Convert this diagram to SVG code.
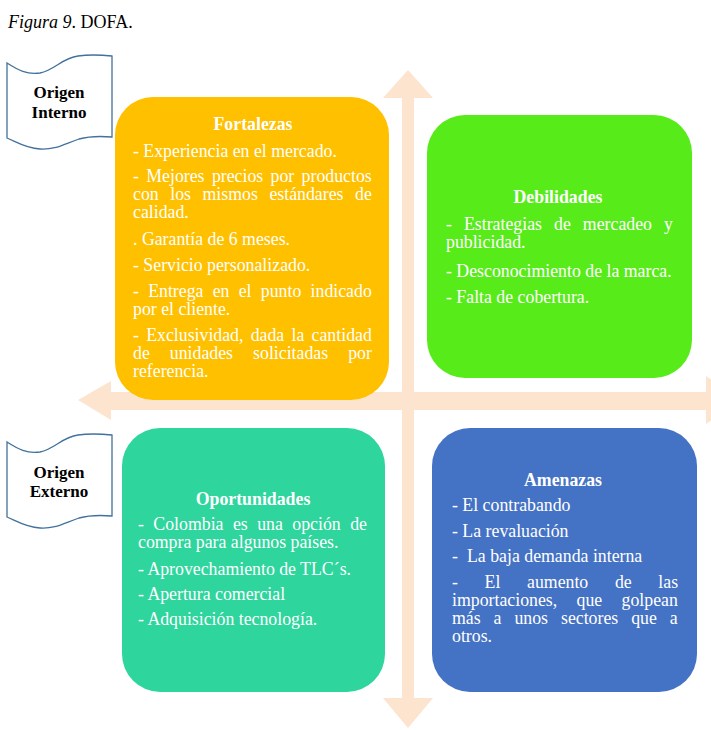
<svg xmlns="http://www.w3.org/2000/svg" width="711" height="730" viewBox="0 0 711 730">
<style>
.t{font-family:"Liberation Serif","Times New Roman",serif;font-size:17.8px;fill:#fff}
.b{font-weight:bold;text-anchor:middle}
.lab{font-family:"Liberation Serif","Times New Roman",serif;font-size:17px;font-weight:bold;fill:#000;text-anchor:middle}
.scroll{fill:#fff;stroke:#41719C;stroke-width:1.3}
.arr{fill:#FCE4CF}
</style>
<rect width="711" height="730" fill="#fff"/>
<text x="8" y="28" style="font-family:'Liberation Serif','Times New Roman',serif;font-size:18px;fill:#000"><tspan font-style="italic">Figura 9</tspan>. DOFA.</text>
<g id="connectors">
<polygon class="arr" points="408,70 433,98 414,98 414,698 433,698 408,728 383,698 402,698 402,98 383,98"/>
<polygon class="arr" points="78,400 111,381 111,392 706,392 706,376 740,400 706,424 706,410 111,410 111,420"/>
</g>
<g id="origen-interno">
<path class="scroll" d="M7,63 C18,70 27,75 40,73 C55,70 62,58 78,56 C92,54 102,55 112,56 L112,137 C100,136 90,136 79,139 C64,144 55,150 40,149 C25,148 15,141 7,138 Z"/>
<text class="lab" x="59" y="98">Origen</text>
<text class="lab" x="59" y="118">Interno</text>
</g>
<g id="origen-externo" transform="translate(0,379)">
<path class="scroll" d="M7,63 C18,70 27,75 40,73 C55,70 62,58 78,56 C92,54 102,55 112,56 L112,137 C100,136 90,136 79,139 C64,144 55,150 40,149 C25,148 15,141 7,138 Z"/>
<text class="lab" x="59" y="99">Origen</text>
<text class="lab" x="59" y="118">Externo</text>
</g>
<g id="fortalezas">
<rect x="115" y="97" width="274" height="303" rx="38" fill="#FFC000"/>
<text class="t b" x="253" y="130">Fortalezas</text>
<text class="t" x="133" y="157">- Experiencia en el mercado.</text>
<text class="t" x="133" y="182" word-spacing="2.9">- Mejores precios por productos</text>
<text class="t" x="133" y="200" word-spacing="7.1">con los mismos estándares de</text>
<text class="t" x="133" y="218">calidad.</text>
<text class="t" x="133" y="245">. Garantía de 6 meses.</text>
<text class="t" x="133" y="271">- Servicio personalizado.</text>
<text class="t" x="133" y="297" word-spacing="4.8">- Entrega en el punto indicado</text>
<text class="t" x="133" y="315">por el cliente.</text>
<text class="t" x="133" y="341" word-spacing="2.8">- Exclusividad, dada la cantidad</text>
<text class="t" x="133" y="359" word-spacing="15.6">de unidades solicitadas por</text>
<text class="t" x="133" y="377">referencia.</text>
</g>
<g id="debilidades">
<rect x="427" y="115" width="265" height="263" rx="38" fill="#58EB1A"/>
<text class="t b" x="558" y="203">Debilidades</text>
<text class="t" x="446" y="230" word-spacing="7.6">- Estrategias de mercadeo y</text>
<text class="t" x="446" y="248">publicidad.</text>
<text class="t" x="446" y="277">- Desconocimiento de la marca.</text>
<text class="t" x="446" y="303">- Falta de cobertura.</text>
</g>
<g id="oportunidades">
<rect x="122" y="428" width="263" height="264" rx="38" fill="#2ED59D"/>
<text class="t b" x="253" y="505">Oportunidades</text>
<text class="t" x="138" y="530" word-spacing="5">- Colombia es una opción de</text>
<text class="t" x="138" y="548">compra para algunos países.</text>
<text class="t" x="138" y="575">- Aprovechamiento de TLC´s.</text>
<text class="t" x="138" y="600">- Apertura comercial</text>
<text class="t" x="138" y="625">- Adquisición tecnología.</text>
</g>
<g id="amenazas">
<rect x="432" y="428" width="265" height="264" rx="38" fill="#4472C4"/>
<text class="t b" x="563" y="486">Amenazas</text>
<text class="t" x="452" y="511">- El contrabando</text>
<text class="t" x="452" y="537">- La revaluación</text>
<text class="t" y="562"><tspan x="452">-</tspan><tspan x="467">La baja demanda interna</tspan></text>
<text class="t" x="452" y="588" word-spacing="22.2">- El aumento de las</text>
<text class="t" x="452" y="606" word-spacing="14.9">importaciones, que golpean</text>
<text class="t" x="452" y="624" word-spacing="8.5">más a unos sectores que a</text>
<text class="t" x="452" y="642">otros.</text>
</g>
</svg>
